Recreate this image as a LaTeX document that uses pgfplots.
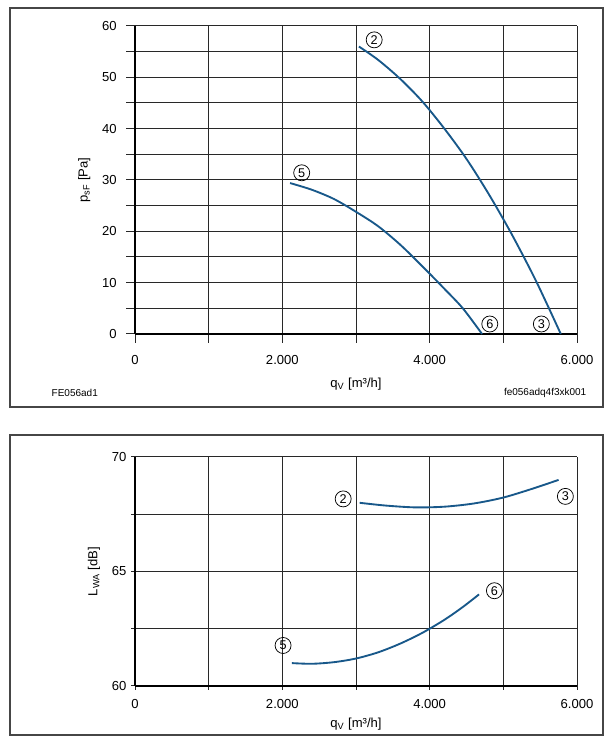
\documentclass[border=0pt]{standalone}
\usepackage{fontspec}
\setmainfont{Liberation Sans}
\usepackage{pgfplots}
\pgfplotsset{compat=1.18}

\definecolor{curve}{RGB}{24,88,138}
\definecolor{gridc}{RGB}{40,40,40}
\definecolor{framec}{RGB}{70,70,70}

\tikzset{
  circ/.style={circle, draw, line width=0.55pt, inner sep=0pt, minimum size=12pt,
    font=\fontsize{9.5}{10}\selectfont},
}

\pgfplotsset{
  fanaxis/.style={
    scale only axis,
    width=331.5pt,
    xmin=0, xmax=6000,
    axis x line=bottom, axis y line=left,
    axis line style={-, line width=1.4pt, black},
    grid=both,
    major grid style={gridc, line width=0.75pt},
    minor grid style={gridc, line width=0.75pt},
    tick align=outside,
    tick style={gridc, line width=0.75pt},
    xtick={0,2000,4000,6000},
    minor xtick={1000,3000,5000},
    scaled ticks=false,
    /pgf/number format/.cd, 1000 sep={.}, assume math mode=true,
    /pgfplots/.cd,
    ticklabel style={font=\fontsize{9.8}{11}\selectfont},
    label style={font=\fontsize{9.8}{11}\selectfont},
    clip=false,
  },
}

\begin{document}
\begin{tikzpicture}
\path[use as bounding box] (0,0) rectangle (456.75pt,558.75pt);

% panel frames
\draw[framec, line width=1.1pt] (7.5pt,552.75pt) rectangle (452.25pt,253.5pt);
\draw[framec, line width=1.1pt] (7.5pt,232.5pt) rectangle (452.25pt,7.5pt);

% pressure curve panel
\begin{axis}[fanaxis,
  at={(101.25pt,308.25pt)}, anchor=south west,
  height=231pt,
  ymin=0, ymax=60,
  ytick={0,10,...,60},
  minor ytick={5,15,...,55},
  major tick length=6.75pt, minor tick length=6.75pt,
  yticklabel style={xshift=-3.5pt},
  xticklabel style={yshift=-5.5pt},
  xlabel={q\textsubscript{V} [m³/h]},
  ylabel={p\textsubscript{sF} [Pa]},
  xlabel style={at={(axis description cs:0.5,0)}, anchor=center, yshift=-37.5pt},
  ylabel style={at={(axis description cs:0,0.5)}, anchor=center, rotate=0, yshift=38pt},
]
\addplot[curve, line width=1.4pt, smooth] coordinates {
  (3040,56.0) (3300,53.4) (3600,49.7) (3900,45.3) (4200,40.0) (4500,34.1)
  (4800,27.3) (5100,19.8) (5400,11.6) (5600,5.6) (5780,0)
};
\addplot[curve, line width=1.4pt, smooth] coordinates {
  (2105,29.4) (2400,28.1) (2700,26.3) (3000,23.8) (3300,21.0) (3600,17.4)
  (3900,13.2) (4200,8.8) (4450,5.0) (4711,0)
};
\node[circ] at (axis cs:3247,57.3) {2};
\node[circ] at (axis cs:2263,31.4) {5};
\node[circ] at (axis cs:4816,1.95) {6};
\node[circ] at (axis cs:5516,1.95) {3};
\end{axis}

\node[anchor=west, font=\fontsize{7.5}{9}\selectfont] at (35.25pt,264pt) {FE056ad1};
\node[anchor=east, font=\fontsize{7.5}{9}\selectfont] at (443.25pt,264pt) {fe056adq4f3xk001};

% sound power panel
\begin{axis}[fanaxis,
  at={(101.25pt,44.25pt)}, anchor=south west,
  height=171.75pt,
  ymin=60, ymax=70,
  ytick={60,65,70},
  minor ytick={62.5,67.5},
  major tick length=3pt, minor tick length=3pt,
  xticklabel style={yshift=-3.5pt},
  xlabel={q\textsubscript{V} [m³/h]},
  ylabel={L\textsubscript{WA} [dB]},
  xlabel style={at={(axis description cs:0.5,0)}, anchor=center, yshift=-28.5pt},
  ylabel style={at={(axis description cs:0,0.5)}, anchor=center, yshift=30.75pt},
]
\addplot[curve, line width=1.4pt, smooth] coordinates {
  (3050,68.0) (3400,67.88) (3800,67.8) (4200,67.83) (4600,67.97)
  (5000,68.23) (5400,68.62) (5750,69.0)
};
\addplot[curve, line width=1.4pt, smooth] coordinates {
  (2130,61.0) (2400,60.97) (2700,61.04) (3000,61.2) (3300,61.47)
  (3600,61.85) (3900,62.32) (4200,62.89) (4450,63.45) (4670,64.0)
};
\node[circ] at (axis cs:2826,68.17) {2};
\node[circ] at (axis cs:5842,68.28) {3};
\node[circ] at (axis cs:2010,61.77) {5};
\node[circ] at (axis cs:4879,64.16) {6};
\end{axis}
\end{tikzpicture}
\end{document}
